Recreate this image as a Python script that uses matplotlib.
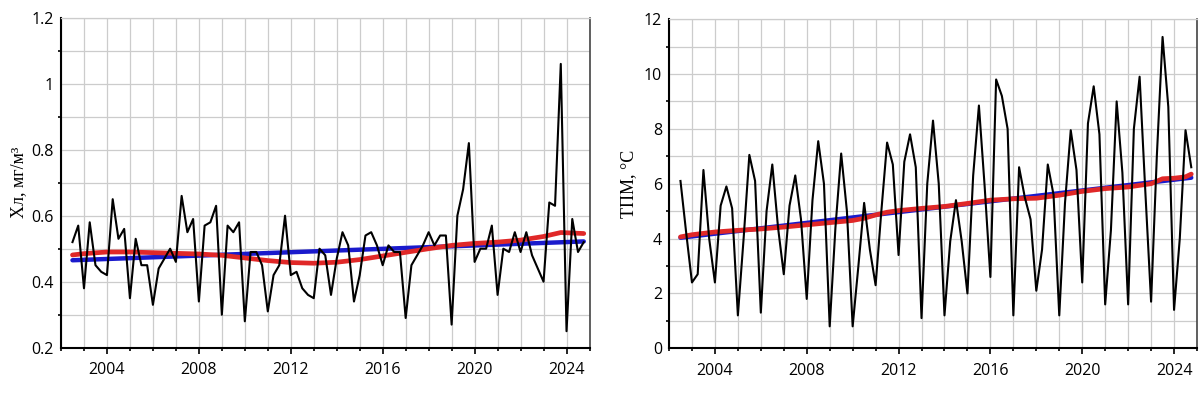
import numpy as np
import matplotlib
matplotlib.use("Agg")
import matplotlib.pyplot as plt
from matplotlib.ticker import MultipleLocator, FormatStrFormatter

# quarterly observations, 2002.5 ... 2024.75
t = np.arange(2002.5, 2025.0, 0.25)

# chlorophyll, mg/m3
chl = [0.52, 0.57,
       0.38, 0.58, 0.45, 0.43,
       0.42, 0.65, 0.53, 0.56,
       0.35, 0.53, 0.45, 0.45,
       0.33, 0.44, 0.47, 0.50,
       0.46, 0.66, 0.55, 0.59,
       0.34, 0.57, 0.58, 0.63,
       0.30, 0.57, 0.55, 0.58,
       0.28, 0.49, 0.49, 0.45,
       0.31, 0.42, 0.45, 0.60,
       0.42, 0.43, 0.38, 0.36,
       0.35, 0.50, 0.48, 0.36,
       0.47, 0.55, 0.51, 0.34,
       0.42, 0.54, 0.55, 0.51,
       0.45, 0.51, 0.49, 0.49,
       0.29, 0.45, 0.48, 0.51,
       0.55, 0.51, 0.54, 0.54,
       0.27, 0.60, 0.68, 0.82,
       0.46, 0.50, 0.50, 0.57,
       0.36, 0.50, 0.49, 0.55,
       0.49, 0.55, 0.48, 0.44,
       0.40, 0.64, 0.63, 1.06,
       0.25, 0.59, 0.49, 0.52]

# sea surface temperature, deg C
sst = [6.1, 4.2,
       2.4, 2.7, 6.5, 4.0,
       2.4, 5.2, 5.9, 5.1,
       1.2, 4.0, 7.05, 6.1,
       1.3, 5.0, 6.7, 4.4,
       2.7, 5.2, 6.3, 4.7,
       1.8, 5.4, 7.55, 6.0,
       0.8, 4.4, 7.1, 5.0,
       0.8, 3.0, 5.3, 3.6,
       2.3, 5.0, 7.5, 6.7,
       3.4, 6.8, 7.8, 6.6,
       1.1, 6.0, 8.3, 6.0,
       1.2, 3.9, 5.4, 3.9,
       2.0, 6.3, 8.85, 5.9,
       2.6, 9.8, 9.2, 8.0,
       1.2, 6.6, 5.5, 4.7,
       2.1, 3.6, 6.7, 5.6,
       1.2, 5.3, 7.95, 6.5,
       2.4, 8.2, 9.55, 7.8,
       1.6, 4.3, 9.0, 6.4,
       1.6, 8.0, 9.9, 5.7,
       1.7, 7.0, 11.35, 8.8,
       1.4, 4.0, 7.95, 6.6]

# linear trends (blue), read at the ends
trend_t = [2002.5, 2024.75]
chl_trend = [0.465, 0.522]
sst_trend = [4.03, 6.22]

# smoothed curves (red)
chl_smooth_t = [2002.5, 2003, 2004, 2005, 2006, 2007, 2008, 2009, 2010, 2011,
                2012, 2013, 2014, 2015, 2016, 2017, 2018, 2019, 2020, 2021,
                2022, 2023, 2023.75, 2024.75]
chl_smooth = [0.481, 0.485, 0.490, 0.490, 0.488, 0.486, 0.484, 0.480, 0.472, 0.464,
              0.458, 0.456, 0.459, 0.467, 0.478, 0.489, 0.500, 0.510, 0.516, 0.520,
              0.526, 0.537, 0.549, 0.546]

sst_smooth_t = [2002.5, 2003, 2004, 2005, 2006, 2007, 2008, 2009, 2010, 2010.5,
                2011, 2011.5, 2012, 2013, 2014, 2015, 2016, 2017, 2018, 2019,
                2020, 2021, 2022, 2023, 2023.5, 2024, 2024.5, 2024.75]
sst_smooth = [4.06, 4.14, 4.24, 4.30, 4.35, 4.42, 4.50, 4.58, 4.66, 4.74,
              4.86, 4.96, 5.02, 5.10, 5.17, 5.28, 5.40, 5.45, 5.47, 5.58,
              5.72, 5.82, 5.88, 6.00, 6.18, 6.20, 6.25, 6.35]

W, H = 1204, 394
fig = plt.figure(figsize=(W / 100, H / 100), dpi=100)
ax1 = fig.add_axes([61 / W, (H - 347.7) / H, (589.5 - 61) / W, 330 / H])
ax2 = fig.add_axes([669 / W, (H - 348.3) / H, (1197 - 669) / W, 329.2 / H])

tick_font = 'Open Sans'
label_font = 'Liberation Serif'


def style(ax, ylo, yhi, ymaj, ymin, fmt):
    ax.set_xlim(2002, 2025)
    ax.set_ylim(ylo, yhi)
    ax.xaxis.set_major_locator(MultipleLocator(4))
    ax.xaxis.set_minor_locator(MultipleLocator(1))
    ax.yaxis.set_major_locator(MultipleLocator(ymaj))
    ax.yaxis.set_minor_locator(MultipleLocator(ymin))
    ax.yaxis.set_major_formatter(fmt)
    ax.grid(True, which='both', color='#cccccc', linewidth=0.9, zorder=0)
    ax.tick_params(axis='x', which='major', direction='out', length=4.5, width=1.2,
                   labelsize=11.5, pad=6)
    ax.tick_params(axis='x', which='minor', direction='out', length=2.5, width=1.2)
    ax.tick_params(axis='y', which='major', direction='out', length=0, labelsize=11.5, pad=5)
    ax.tick_params(axis='y', which='minor', direction='out', length=2.5, width=1.2)
    for lab in ax.get_xticklabels() + ax.get_yticklabels():
        lab.set_fontfamily(tick_font)
    ax.spines['left'].set_linewidth(1.5)
    ax.spines['bottom'].set_linewidth(1.5)
    ax.spines['right'].set_color('#444444')
    ax.spines['right'].set_linewidth(1.2)
    ax.spines['top'].set_color('#cccccc')
    ax.spines['top'].set_linewidth(0.9)


def chl_fmt(v, pos):
    s = f"{v:.1f}"
    return s[:-2] if s.endswith('.0') else s


ax1.plot(trend_t, chl_trend, color='#1a1acc', linewidth=3.2, solid_capstyle='round', zorder=3)
ax1.plot(chl_smooth_t, chl_smooth, color='#e02828', linewidth=3.4, solid_capstyle='round', zorder=4)
ax1.plot(t, chl, color='black', linewidth=1.5, zorder=5)
style(ax1, 0.2, 1.2, 0.2, 0.1, plt.FuncFormatter(chl_fmt))
ax1.set_ylabel('Хл, мг/м³', family=label_font, fontsize=13, labelpad=3)

ax2.plot(trend_t, sst_trend, color='#1a1acc', linewidth=3.2, solid_capstyle='round', zorder=3)
ax2.plot(sst_smooth_t, sst_smooth, color='#e02828', linewidth=3.4, solid_capstyle='round', zorder=4)
ax2.plot(t, sst, color='black', linewidth=1.5, zorder=5)
style(ax2, 0, 12, 2, 1, FormatStrFormatter('%d'))
ax2.set_ylabel('ТПМ, °C', family=label_font, fontsize=13, labelpad=5)

fig.savefig('out.png', dpi=100)
